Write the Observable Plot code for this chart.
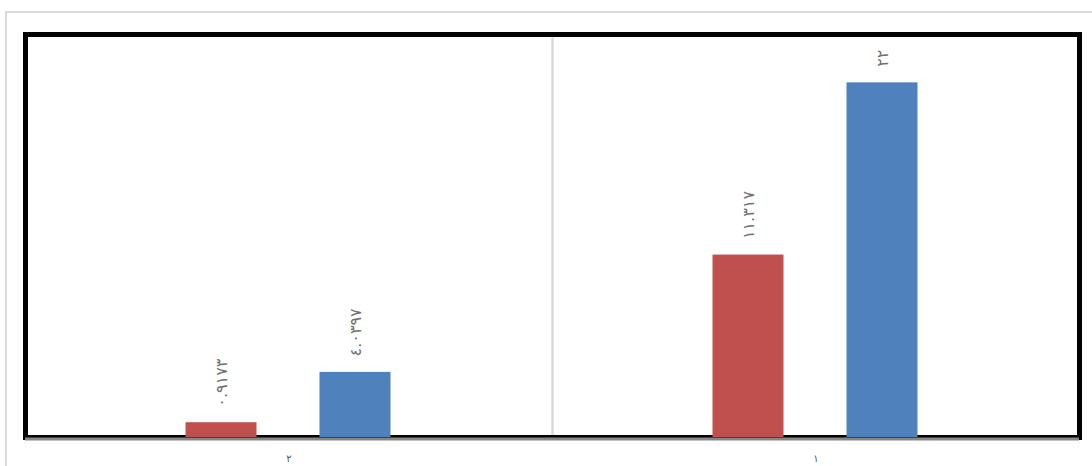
<!DOCTYPE html>
<html>
<head>
<meta charset="utf-8">
<script src="https://cdn.jsdelivr.net/npm/d3@7"></script>
<script src="https://cdn.jsdelivr.net/npm/@observablehq/plot@0.6"></script>
<style>
  html, body { margin: 0; padding: 0; background: #fff; overflow: hidden; }
  #wrap { position: relative; width: 1092px; height: 466px; }
  #outer { position: absolute; left: 5px; top: 11px; width: 1200px; height: 600px; border: 2px solid #d9d9d9; box-sizing: border-box; }
  #chart { position: absolute; left: 0; top: 0; }
  .vlabel text { letter-spacing: 2.5px; }
</style>
</head>
<body>
<div id="wrap"><div id="outer"></div><div id="chart"></div></div>
<script>
// Categories (right-to-left order as in the reference: "٢" on the left, "١" on the right)
const categories = ["٢", "١"];
const seriesNames = ["s1", "s2"];
const seriesColors = ["#C0504D", "#4F81BD"];
// values per category, series s1 (red) and s2 (blue)
const redValues = [0.9173, 11.317];
const blueValues = [4.0397, 22];

const toArabic = s => String(s).replace(/[0-9]/g, d => "٠١٢٣٤٥٦٧٨٩"[+d]);

const data = [];
categories.forEach((c, i) => {
  data.push({cat: c, series: "s1", value: redValues[i]});
  data.push({cat: c, series: "s2", value: blueValues[i]});
});

let marks = [
  Plot.frame({stroke: "#d9d9d9", strokeWidth: 2}),
  Plot.frame({stroke: "#000", strokeWidth: 5, facet: "super"}),
  Plot.barY(data, {x: "series", y: "value", fill: "series"}),
  Plot.ruleY([0], {stroke: "#868686", strokeWidth: 3, dy: 1.5}),
  Plot.text(data, {
    x: "series", y: "value", text: d => toArabic(d.value),
    rotate: -90, textAnchor: "start", dy: -16,
    fill: "#707070", fontSize: 16, fontFamily: "DejaVu Sans",
    className: "vlabel"
  })
];

function build(ms) {
  return Plot.plot({
    width: 1092,
    height: 466,
    marginLeft: 24.5,
    marginRight: 13.5,
    marginTop: 34,
    marginBottom: 29,
    style: {background: "transparent", fontFamily: "DejaVu Sans", color: "#595959"},
    facet: {data: data, x: "cat"},
    fx: {domain: categories, padding: 0, axis: "bottom", label: null, tickSize: 0, tickPadding: 17, fontSize: 12},
    x: {domain: seriesNames, paddingInner: 0.467, paddingOuter: 1.19, axis: null},
    y: {domain: [0, 25], axis: null},
    color: {domain: seriesNames, range: seriesColors},
    marks: ms
  });
}

let chart;
try {
  chart = build(marks);
} catch (e) {
  marks.splice(1, 1);
  chart = build(marks);
}
chart.querySelectorAll(".vlabel text").forEach(t => t.style.letterSpacing = "2.5px");
document.getElementById("chart").appendChild(chart);
</script>
</body>
</html>
